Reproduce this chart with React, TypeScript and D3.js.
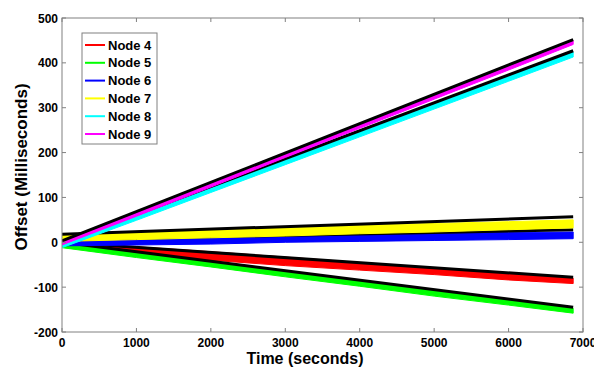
import React from "react";
import * as d3 from "d3";

// Sample times (seconds) at which the data-cloud envelopes were read
const times = [0, 1000, 2000, 3000, 4000, 5000, 6000, 6868];

// Envelopes (lower / upper offset, ms) of each node's scatter cloud
const node4Low = [-6, -28, -40, -52, -62, -72, -84, -92];
const node4High = [0, -10, -21, -33, -45, -57, -68, -80];
const node5Low = [-12, -34, -55, -77, -98, -120, -140, -158];
const node5High = [-3, -23, -44, -65, -86, -107, -128, -147];
const node6Low = [-8, -6, -4, 0, 2, 4, 6, 8];
const node6High = [2, 8, 12, 16, 19, 21, 22, 23];
const node7Low = [2, 6, 10, 14, 19, 23, 28, 32];
const node7High = [16, 22, 28, 33, 38, 42, 46, 50];
const node8Low = [-12, 49, 111, 173, 235, 297, 359, 413];
const node8High = [-2, 59, 121, 184, 246, 308, 370, 424];
const node9Low = [-6, 58, 123, 189, 254, 319, 384, 441];
const node9High = [2, 66, 131, 197, 262, 327, 392, 449];

// Linear fit lines (black), start / end values
const fitTimes = [0, 6868];
const fit4 = [0, -78];
const fit5 = [0, -145];
const fit6 = [6, 28];
const fit7 = [18, 57];
const fit8 = [0, 427];
const fit9 = [3, 452];

const nodeNames = ["Node 4", "Node 5", "Node 6", "Node 7", "Node 8", "Node 9"];
const nodeColors = ["#ff0000", "#00ff00", "#0000ff", "#ffff00", "#00ffff", "#ff00ff"];

const xTicks = [0, 1000, 2000, 3000, 4000, 5000, 6000, 7000];
const yTicks = [-200, -100, 0, 100, 200, 300, 400, 500];

export default function App() {
  const W = 594;
  const H = 367;
  const x = d3.scaleLinear().domain([0, 7000]).range([62, 583]);
  const y = d3.scaleLinear().domain([-200, 500]).range([332, 18]);

  const lows = [node4Low, node5Low, node6Low, node7Low, node8Low, node9Low];
  const highs = [node4High, node5High, node6High, node7High, node8High, node9High];
  const fits = [fit4, fit5, fit6, fit7, fit8, fit9];

  const makeArea = (lo: number[], hi: number[]) =>
    d3
      .area<number>()
      .x((_, i) => x(times[i]))
      .y0((_, i) => y(lo[i]))
      .y1((_, i) => y(hi[i]))(times) as string;

  const line = (vals: number[]) =>
    d3
      .line<number>()
      .x((_, i) => x(fitTimes[i]))
      .y((v) => y(v))(vals) as string;

  const axisColor = "#808080";
  const font = "'Liberation Sans', Arial, sans-serif";
  const [x0, x1] = x.range();
  const [yb, yt] = y.range();
  const tick = 4;

  // legend
  const lgX = 82;
  const lgY = 33;
  const lgW = 75;
  const lgH = 111;
  const rowH = 17.8;

  return (
    <svg
      width={W}
      height={H}
      style={{ position: "absolute", left: 0, top: 0, background: "#fff" }}
      fontFamily={font}
    >
      <rect x={0} y={0} width={W} height={H} fill="#fff" />
      <defs>
        <clipPath id="plotclip">
          <rect x={x0} y={yt} width={x1 - x0} height={yb - yt} />
        </clipPath>
      </defs>
      <g clipPath="url(#plotclip)">
        {nodeNames.map((n, k) => (
          <g key={n}>
            <path d={makeArea(lows[k], highs[k])} fill={nodeColors[k]} stroke={nodeColors[k]} strokeWidth={1} />
            <path d={line(fits[k])} fill="none" stroke="#000" strokeWidth={3} />
          </g>
        ))}
      </g>
      {/* axes box */}
      <rect x={x0} y={yt} width={x1 - x0} height={yb - yt} fill="none" stroke={axisColor} strokeWidth={1} />
      {xTicks.map((t) => (
        <g key={"x" + t}>
          <line x1={x(t)} x2={x(t)} y1={yb} y2={yb - tick} stroke={axisColor} />
          <line x1={x(t)} x2={x(t)} y1={yt} y2={yt + tick} stroke={axisColor} />
          <text x={x(t)} y={347} textAnchor="middle" fontSize={12} fontWeight="bold" fill="#000">
            {t}
          </text>
        </g>
      ))}
      {yTicks.map((t) => (
        <g key={"y" + t}>
          <line x1={x0} x2={x0 + tick} y1={y(t)} y2={y(t)} stroke={axisColor} />
          <line x1={x1} x2={x1 - tick} y1={y(t)} y2={y(t)} stroke={axisColor} />
          <text x={58} y={y(t) + 4.5} textAnchor="end" fontSize={12} fontWeight="bold" fill="#000">
            {t}
          </text>
        </g>
      ))}
      <text x={305} y={364} textAnchor="middle" fontSize={16} fontWeight="bold" fill="#000">
        Time (seconds)
      </text>
      <text
        transform={`translate(27,167) rotate(-90)`}
        textAnchor="middle"
        fontSize={17}
        fontWeight="bold"
        fill="#000"
      >
        Offset (Milliseconds)
      </text>
      {/* legend */}
      <rect x={lgX} y={lgY} width={lgW} height={lgH} fill="#fff" stroke={axisColor} strokeWidth={1} />
      {nodeNames.map((n, k) => {
        const cy = 45 + k * rowH;
        return (
          <g key={"lg" + n}>
            <line x1={85} x2={105} y1={cy} y2={cy} stroke={nodeColors[k]} strokeWidth={2} />
            <text x={108} y={cy + 4.5} fontSize={13} fontWeight="bold" fill="#000">
              {n}
            </text>
          </g>
        );
      })}
    </svg>
  );
}
